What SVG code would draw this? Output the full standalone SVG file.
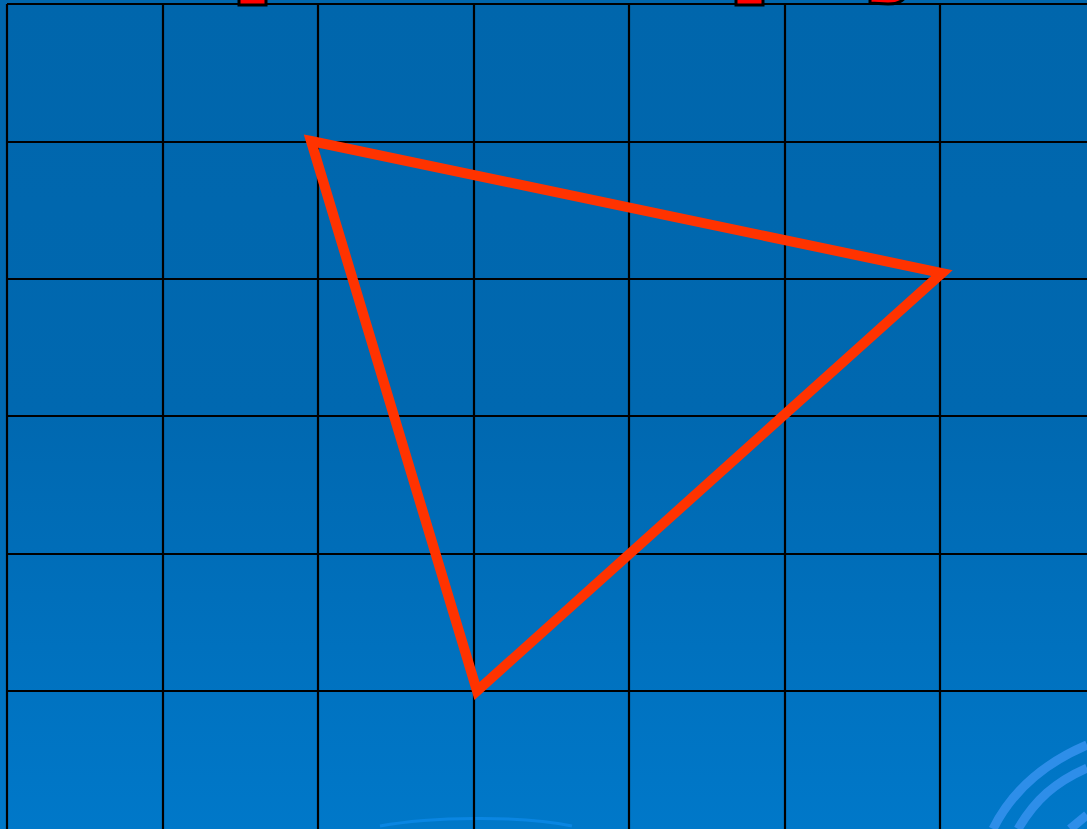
<svg xmlns="http://www.w3.org/2000/svg" width="1087" height="829" viewBox="0 0 1087 829">
<defs>
<linearGradient id="bg" x1="0" y1="0" x2="0" y2="1">
<stop offset="0" stop-color="#0066AC"/>
<stop offset="0.5" stop-color="#0068B0"/>
<stop offset="1" stop-color="#0078C9"/>
</linearGradient>
<style>
.grid{stroke:#000;stroke-width:2.2;fill:none}
.tri{stroke:#FF3300;stroke-width:10;fill:none;stroke-linejoin:miter}
.frag{fill:#FF0000;stroke:#000;stroke-width:3}
.deco{stroke:#2E8EE9;stroke-width:9;fill:none}
</style>
</defs>
<rect x="0" y="0" width="1087" height="829" fill="url(#bg)"/>
<g id="decor">
<path class="deco" d="M993,829 C1010,795 1040,765 1087,745"/>
<path class="deco" d="M1018,829 C1035,800 1055,782 1087,768"/>
<path class="deco" d="M1070,829 L1087,815"/>
<path d="M380,826 C430,817 520,815 572,826" stroke="#0A86E2" stroke-width="3" fill="none"/>
</g>
<g id="grid">
<path class="grid" d="M7,4 V829 M163,4 V829 M318,4 V829 M474,4 V829 M629,4 V829 M785,4 V829 M940,4 V829"/>
<path class="grid" d="M7,4 H1087 M7,142 H1087 M7,279 H1087 M7,416 H1087 M7,554 H1087 M7,691 H1087"/>
</g>
<g id="fragments">
<rect class="frag" x="239" y="-5" width="27" height="10"/>
<rect class="frag" x="736" y="-5" width="27" height="10"/>
<path class="frag" d="M870,-5 L870,3 L888,4 C898,4 904,1 906,-5 Z"/>
</g>
<g id="connectors">
<polygon class="tri" points="311,141 942,273 477,691"/>
</g>
</svg>
